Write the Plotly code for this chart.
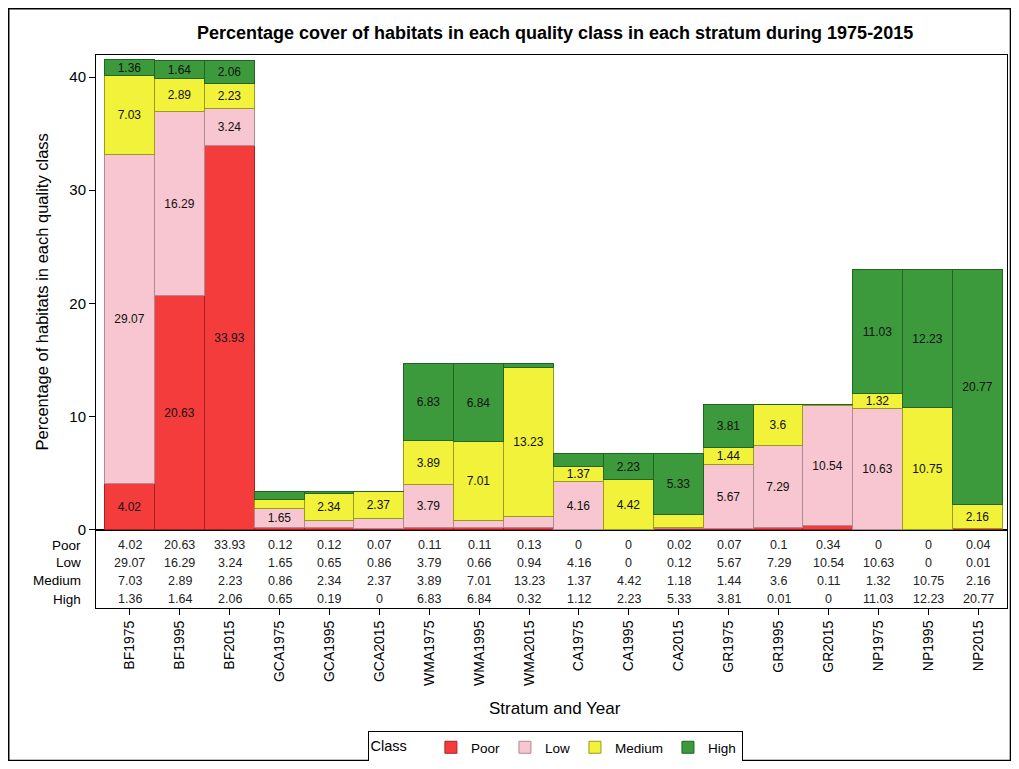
import plotly.graph_objects as go

strata = ["BF1975", "BF1995", "BF2015", "GCA1975", "GCA1995", "GCA2015",
          "WMA1975", "WMA1995", "WMA2015", "CA1975", "CA1995", "CA2015",
          "GR1975", "GR1995", "GR2015", "NP1975", "NP1995", "NP2015"]

poor = [4.02, 20.63, 33.93, 0.12, 0.12, 0.07, 0.11, 0.11, 0.13, 0, 0, 0.02, 0.07, 0.1, 0.34, 0, 0, 0.04]
low = [29.07, 16.29, 3.24, 1.65, 0.65, 0.86, 3.79, 0.66, 0.94, 4.16, 0, 0.12, 5.67, 7.29, 10.54, 10.63, 0, 0.01]
medium = [7.03, 2.89, 2.23, 0.86, 2.34, 2.37, 3.89, 7.01, 13.23, 1.37, 4.42, 1.18, 1.44, 3.6, 0.11, 1.32, 10.75, 2.16]
high = [1.36, 1.64, 2.06, 0.65, 0.19, 0, 6.83, 6.84, 0.32, 1.12, 2.23, 5.33, 3.81, 0.01, 0, 11.03, 12.23, 20.77]

classes = ["Poor", "Low", "Medium", "High"]
values = [poor, low, medium, high]
fills = ["#f43c3c", "#f8c6d0", "#f2f23a", "#3c9a3c"]
edges = ["#a82024", "#b08a92", "#9a9a1c", "#1f6620"]

FONT = "Liberation Sans, Arial, sans-serif"

fig = go.Figure()
for name, vals, fc, ec in zip(classes, values, fills, edges):
    labels = [f"{v:g}" if v >= 1.3 else "" for v in vals]
    fig.add_trace(go.Bar(
        x=strata, y=vals, name=name, text=labels,
        textposition="inside", insidetextanchor="middle", textangle=0,
        textfont=dict(size=12, color="#111", family=FONT),
        marker=dict(color=fc, line=dict(color=ec, width=1)),
        hoverinfo="x+y+name",
    ))

# data table under the bars
row_y = [-1.37, -2.96, -4.55, -6.15]
for name, vals, ry in zip(classes, values, row_y):
    fig.add_annotation(x=-0.0143, xref="paper", y=ry, yref="y", text=name,
                       showarrow=False, xanchor="right", yanchor="middle",
                       font=dict(size=13.5, color="black", family=FONT))
    for s, v in zip(strata, vals):
        fig.add_annotation(x=s, y=ry, text=f"{v:g}", showarrow=False,
                           xanchor="center", yanchor="middle",
                           font=dict(size=12.5, color="#222", family=FONT))

fig.add_annotation(x=-0.059, xref="paper", y=0.571, yref="paper",
                   text="Percentage of habitats in each quality class",
                   textangle=-90, showarrow=False, xanchor="center", yanchor="middle",
                   font=dict(size=16.5, color="black", family=FONT))
fig.add_annotation(x=0.504, xref="paper", y=-0.181, yref="paper",
                   text="Stratum and Year", showarrow=False,
                   xanchor="center", yanchor="middle",
                   font=dict(size=17, color="black", family=FONT))

# outer border
fig.add_shape(type="rect", xref="paper", yref="paper",
              x0=-0.0958, x1=1.0038, y0=-0.2758, y1=1.0836,
              line=dict(color="black", width=1.5))

fig.update_layout(
    width=1003, height=753,
    barmode="stack", bargap=0.0,
    margin=dict(l=88, r=4, t=47, b=153, autoexpand=False),
    paper_bgcolor="white", plot_bgcolor="white",
    font=dict(family=FONT, color="black"),
    uniformtext=dict(minsize=12, mode="show"),
    title=dict(text="<b>Percentage cover of habitats in each quality class in each stratum during 1975-2015</b>",
               x=0.5454, xref="container", xanchor="center", y=1 - 25 / 753, yanchor="middle",
               font=dict(size=18, color="black", family=FONT)),
    legend=dict(orientation="h", x=0.5454, xref="container", xanchor="center",
                y=1 - 723 / 753, yref="container", yanchor="top",
                traceorder="normal", valign="middle",
                title=dict(text="Class    ", font=dict(size=14.5), side="left"),
                font=dict(size=13.5), bordercolor="black", borderwidth=1,
                tracegroupgap=0),
    showlegend=True,
)
fig.update_xaxes(range=[-0.68, 17.58], tickangle=-90, ticks="outside", ticklen=6,
                 tickcolor="black", tickfont=dict(size=14), automargin=False,
                 showline=True, linecolor="black", linewidth=1, mirror=True,
                 showgrid=False)
fig.update_yaxes(range=[-6.94, 41.95], tickvals=[0, 10, 20, 30, 40],
                 ticks="outside", ticklen=6, tickcolor="black", tickfont=dict(size=15),
                 automargin=False,
                 showline=True, linecolor="black", linewidth=1, mirror=True,
                 showgrid=False, zeroline=True, zerolinecolor="black", zerolinewidth=2)

fig.write_html("out.html")
